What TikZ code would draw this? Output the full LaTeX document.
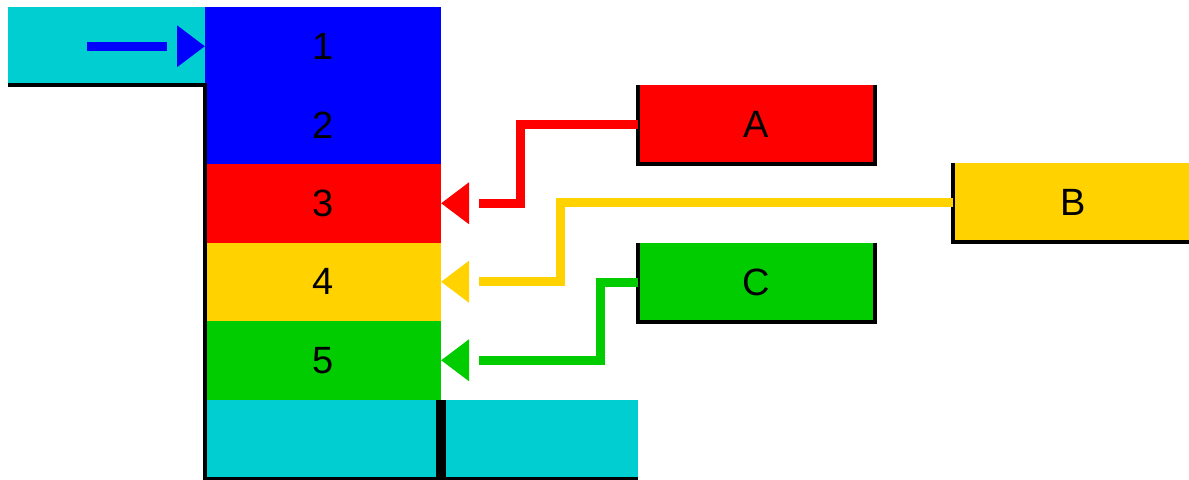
\documentclass[tikz,border=0pt]{standalone}
\usepackage{fontspec}
\setmainfont{Liberation Sans}
\usepackage{xcolor}
\definecolor{PIPEcolor}{HTML}{00CED1}
\definecolor{BLUEcolor}{HTML}{0000FF}
\definecolor{REDcolor}{HTML}{FF0000}
\definecolor{GOLDcolor}{HTML}{FFD200}
\definecolor{GREENcolor}{HTML}{00CC00}
\usepackage{tikz}
\usetikzlibrary{math,arrows.meta}

\begin{document}
\begin{tikzpicture}[x=0.5pt, y=-0.5pt]

    \tikzset{%
        layer/.style={%
                minimum width=118pt, minimum height=39.25pt,
                inner sep=0pt, outer sep=0pt, anchor=north west,
                font=\fontsize{19}{22}\selectfont
            },
        tank/.style={%
                minimum width=118.5pt, minimum height=39.5pt,
                inner sep=0pt, outer sep=0pt, anchor=north west,
                font=\fontsize{19}{22}\selectfont
            },
        pipe/.style={fill=PIPEcolor, inner sep=0pt, outer sep=0pt},
        wall/.style={line width=2.2pt, black},
        feed/.style={line width=4.5pt, shorten >=19pt},
        feedtip/.style={line width=4.5pt, -{Triangle[length=14pt, width=20pt]}}
    }

    \useasboundingbox (0, 0) rectangle (1189, 479);

    \tikzmath{%
        \ytop=7;
        \dlayer=78.5;
    };

    % column of layers
    \foreach \i/\c in {1/BLUEcolor, 2/BLUEcolor, 3/REDcolor, 4/GOLDcolor, 5/GREENcolor} {%
            \node [layer, fill=\c] (l\i) at (205, {\ytop+(\i-1)*\dlayer}) {\i};
        }

    \node [pipe, minimum width=98.5pt, minimum height=39pt, anchor=north east] (inlet) at (l1.north west) {};
    \node [pipe, minimum width=216.5pt, minimum height=40pt, anchor=north west] (outlet) at (l5.south west) {};

    % tanks
    \node [tank, fill=REDcolor] (A) at (638, 85) {A};
    \node [tank, fill=GOLDcolor, minimum width=120pt] (B) at (953, 163) {B};
    \node [tank, fill=GREENcolor] (C) at (638, 243) {C};
    \foreach \t in {A, B, C} {%
            \draw [wall] (\t.north west) |- (\t.south east) -- (\t.north east);
        }

    % walls
    \draw [wall] (inlet.south west) -- (inlet.south east) -- (outlet.south west) -- (outlet.south east);
    \draw [line width=5pt, black] (l5.south east) -- (l5.south east |- outlet.south);

    % feeds
    \path (l1.west) ++(-118, 0) coordinate (src);
    \draw [feed, BLUEcolor] (src) -- (l1.west);
    \draw [feed, REDcolor] (A.west) -- ++(-118, 0) |- (l3.east);
    \draw [feed, GOLDcolor] (B.west) -- ++(-393, 0) |- (l4.east);
    \draw [feed, GREENcolor] (C.west) -- ++(-38, 0) |- (l5.east);

    \draw [feedtip, BLUEcolor] ([xshift=-14pt]l1.west) -- (l1.west);
    \foreach \n/\c in {l3/REDcolor, l4/GOLDcolor, l5/GREENcolor} {%
            \draw [feedtip, \c] ([xshift=14pt]\n.east) -- (\n.east);
        }

\end{tikzpicture}
\end{document}
